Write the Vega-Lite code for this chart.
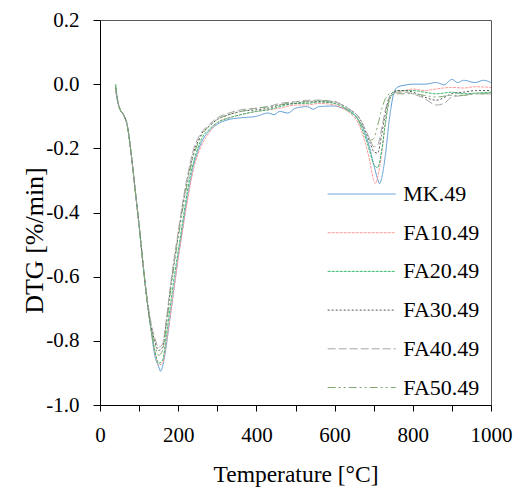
{
"$schema": "https://vega.github.io/schema/vega-lite/v6.json",
"width": 391, "height": 385,
"autosize": "none",
"padding": {"left": 100, "top": 20, "right": 23, "bottom": 83},
"background": "white",
"config": {"view": {"stroke": "#595959", "strokeWidth": 1}},
"data": {"values": [
{"s":"MK.49","t":40,"v":-0.02},{"s":"MK.49","t":45,"v":-0.055},{"s":"MK.49","t":50,"v":-0.075},{"s":"MK.49","t":60,"v":-0.095},{"s":"MK.49","t":70,"v":-0.13},{"s":"MK.49","t":80,"v":-0.22},{"s":"MK.49","t":90,"v":-0.33},{"s":"MK.49","t":100,"v":-0.44},{"s":"MK.49","t":110,"v":-0.56},{"s":"MK.49","t":120,"v":-0.67},{"s":"MK.49","t":130,"v":-0.76},{"s":"MK.49","t":140,"v":-0.845},{"s":"MK.49","t":150,"v":-0.88},{"s":"MK.49","t":155,"v":-0.895},{"s":"MK.49","t":160,"v":-0.88},{"s":"MK.49","t":170,"v":-0.81},{"s":"MK.49","t":180,"v":-0.72},{"s":"MK.49","t":190,"v":-0.63},{"s":"MK.49","t":200,"v":-0.54},{"s":"MK.49","t":210,"v":-0.46},{"s":"MK.49","t":220,"v":-0.38},{"s":"MK.49","t":230,"v":-0.31},{"s":"MK.49","t":240,"v":-0.25},{"s":"MK.49","t":250,"v":-0.21},{"s":"MK.49","t":260,"v":-0.18},{"s":"MK.49","t":280,"v":-0.145},{"s":"MK.49","t":300,"v":-0.125},{"s":"MK.49","t":330,"v":-0.11},{"s":"MK.49","t":360,"v":-0.105},{"s":"MK.49","t":400,"v":-0.1},{"s":"MK.49","t":430,"v":-0.09},{"s":"MK.49","t":445,"v":-0.095},{"s":"MK.49","t":460,"v":-0.085},{"s":"MK.49","t":480,"v":-0.09},{"s":"MK.49","t":500,"v":-0.075},{"s":"MK.49","t":530,"v":-0.07},{"s":"MK.49","t":545,"v":-0.078},{"s":"MK.49","t":560,"v":-0.07},{"s":"MK.49","t":600,"v":-0.068},{"s":"MK.49","t":620,"v":-0.075},{"s":"MK.49","t":640,"v":-0.085},{"s":"MK.49","t":660,"v":-0.11},{"s":"MK.49","t":670,"v":-0.13},{"s":"MK.49","t":680,"v":-0.16},{"s":"MK.49","t":690,"v":-0.2},{"s":"MK.49","t":700,"v":-0.25},{"s":"MK.49","t":710,"v":-0.295},{"s":"MK.49","t":715,"v":-0.31},{"s":"MK.49","t":720,"v":-0.295},{"s":"MK.49","t":730,"v":-0.22},{"s":"MK.49","t":740,"v":-0.11},{"s":"MK.49","t":750,"v":-0.035},{"s":"MK.49","t":760,"v":-0.01},{"s":"MK.49","t":780,"v":-0.003},{"s":"MK.49","t":800,"v":0.0},{"s":"MK.49","t":830,"v":0.0},{"s":"MK.49","t":860,"v":0.005},{"s":"MK.49","t":880,"v":-0.002},{"s":"MK.49","t":900,"v":0.015},{"s":"MK.49","t":915,"v":0.005},{"s":"MK.49","t":930,"v":0.012},{"s":"MK.49","t":960,"v":0.005},{"s":"MK.49","t":980,"v":0.012},{"s":"MK.49","t":1000,"v":0.005},
{"s":"FA10.49","t":40,"v":-0.02},{"s":"FA10.49","t":45,"v":-0.05},{"s":"FA10.49","t":50,"v":-0.075},{"s":"FA10.49","t":60,"v":-0.095},{"s":"FA10.49","t":70,"v":-0.13},{"s":"FA10.49","t":80,"v":-0.22},{"s":"FA10.49","t":90,"v":-0.33},{"s":"FA10.49","t":100,"v":-0.44},{"s":"FA10.49","t":110,"v":-0.56},{"s":"FA10.49","t":120,"v":-0.67},{"s":"FA10.49","t":130,"v":-0.76},{"s":"FA10.49","t":140,"v":-0.83},{"s":"FA10.49","t":150,"v":-0.875},{"s":"FA10.49","t":160,"v":-0.87},{"s":"FA10.49","t":170,"v":-0.8},{"s":"FA10.49","t":180,"v":-0.72},{"s":"FA10.49","t":190,"v":-0.63},{"s":"FA10.49","t":200,"v":-0.545},{"s":"FA10.49","t":210,"v":-0.465},{"s":"FA10.49","t":220,"v":-0.39},{"s":"FA10.49","t":230,"v":-0.32},{"s":"FA10.49","t":240,"v":-0.26},{"s":"FA10.49","t":250,"v":-0.22},{"s":"FA10.49","t":260,"v":-0.19},{"s":"FA10.49","t":280,"v":-0.15},{"s":"FA10.49","t":300,"v":-0.12},{"s":"FA10.49","t":330,"v":-0.105},{"s":"FA10.49","t":360,"v":-0.095},{"s":"FA10.49","t":400,"v":-0.085},{"s":"FA10.49","t":430,"v":-0.08},{"s":"FA10.49","t":460,"v":-0.075},{"s":"FA10.49","t":500,"v":-0.065},{"s":"FA10.49","t":530,"v":-0.065},{"s":"FA10.49","t":560,"v":-0.06},{"s":"FA10.49","t":600,"v":-0.065},{"s":"FA10.49","t":620,"v":-0.075},{"s":"FA10.49","t":640,"v":-0.09},{"s":"FA10.49","t":660,"v":-0.12},{"s":"FA10.49","t":670,"v":-0.15},{"s":"FA10.49","t":680,"v":-0.19},{"s":"FA10.49","t":690,"v":-0.24},{"s":"FA10.49","t":700,"v":-0.3},{"s":"FA10.49","t":705,"v":-0.31},{"s":"FA10.49","t":710,"v":-0.29},{"s":"FA10.49","t":720,"v":-0.22},{"s":"FA10.49","t":730,"v":-0.12},{"s":"FA10.49","t":740,"v":-0.05},{"s":"FA10.49","t":750,"v":-0.03},{"s":"FA10.49","t":760,"v":-0.025},{"s":"FA10.49","t":780,"v":-0.02},{"s":"FA10.49","t":800,"v":-0.015},{"s":"FA10.49","t":830,"v":-0.02},{"s":"FA10.49","t":860,"v":-0.015},{"s":"FA10.49","t":900,"v":-0.01},{"s":"FA10.49","t":930,"v":-0.012},{"s":"FA10.49","t":960,"v":-0.008},{"s":"FA10.49","t":1000,"v":-0.01},
{"s":"FA20.49","t":40,"v":0.0},{"s":"FA20.49","t":45,"v":-0.05},{"s":"FA20.49","t":50,"v":-0.075},{"s":"FA20.49","t":60,"v":-0.095},{"s":"FA20.49","t":70,"v":-0.13},{"s":"FA20.49","t":80,"v":-0.22},{"s":"FA20.49","t":90,"v":-0.33},{"s":"FA20.49","t":100,"v":-0.44},{"s":"FA20.49","t":110,"v":-0.56},{"s":"FA20.49","t":120,"v":-0.67},{"s":"FA20.49","t":130,"v":-0.76},{"s":"FA20.49","t":140,"v":-0.83},{"s":"FA20.49","t":150,"v":-0.87},{"s":"FA20.49","t":160,"v":-0.86},{"s":"FA20.49","t":170,"v":-0.78},{"s":"FA20.49","t":180,"v":-0.69},{"s":"FA20.49","t":190,"v":-0.6},{"s":"FA20.49","t":200,"v":-0.52},{"s":"FA20.49","t":210,"v":-0.44},{"s":"FA20.49","t":220,"v":-0.36},{"s":"FA20.49","t":230,"v":-0.29},{"s":"FA20.49","t":240,"v":-0.24},{"s":"FA20.49","t":250,"v":-0.2},{"s":"FA20.49","t":260,"v":-0.17},{"s":"FA20.49","t":280,"v":-0.14},{"s":"FA20.49","t":300,"v":-0.12},{"s":"FA20.49","t":330,"v":-0.105},{"s":"FA20.49","t":360,"v":-0.095},{"s":"FA20.49","t":400,"v":-0.085},{"s":"FA20.49","t":430,"v":-0.08},{"s":"FA20.49","t":460,"v":-0.07},{"s":"FA20.49","t":500,"v":-0.06},{"s":"FA20.49","t":530,"v":-0.06},{"s":"FA20.49","t":560,"v":-0.055},{"s":"FA20.49","t":600,"v":-0.06},{"s":"FA20.49","t":620,"v":-0.07},{"s":"FA20.49","t":640,"v":-0.085},{"s":"FA20.49","t":660,"v":-0.11},{"s":"FA20.49","t":670,"v":-0.14},{"s":"FA20.49","t":680,"v":-0.17},{"s":"FA20.49","t":690,"v":-0.21},{"s":"FA20.49","t":700,"v":-0.25},{"s":"FA20.49","t":710,"v":-0.26},{"s":"FA20.49","t":720,"v":-0.21},{"s":"FA20.49","t":730,"v":-0.12},{"s":"FA20.49","t":740,"v":-0.05},{"s":"FA20.49","t":750,"v":-0.03},{"s":"FA20.49","t":760,"v":-0.02},{"s":"FA20.49","t":780,"v":-0.02},{"s":"FA20.49","t":800,"v":-0.02},{"s":"FA20.49","t":830,"v":-0.025},{"s":"FA20.49","t":860,"v":-0.03},{"s":"FA20.49","t":900,"v":-0.025},{"s":"FA20.49","t":930,"v":-0.03},{"s":"FA20.49","t":960,"v":-0.028},{"s":"FA20.49","t":1000,"v":-0.025},
{"s":"FA30.49","t":40,"v":-0.01},{"s":"FA30.49","t":45,"v":-0.05},{"s":"FA30.49","t":50,"v":-0.075},{"s":"FA30.49","t":60,"v":-0.095},{"s":"FA30.49","t":70,"v":-0.13},{"s":"FA30.49","t":80,"v":-0.22},{"s":"FA30.49","t":90,"v":-0.33},{"s":"FA30.49","t":100,"v":-0.44},{"s":"FA30.49","t":110,"v":-0.56},{"s":"FA30.49","t":120,"v":-0.67},{"s":"FA30.49","t":130,"v":-0.75},{"s":"FA30.49","t":140,"v":-0.8},{"s":"FA30.49","t":150,"v":-0.83},{"s":"FA30.49","t":160,"v":-0.82},{"s":"FA30.49","t":170,"v":-0.74},{"s":"FA30.49","t":180,"v":-0.64},{"s":"FA30.49","t":190,"v":-0.55},{"s":"FA30.49","t":200,"v":-0.47},{"s":"FA30.49","t":210,"v":-0.39},{"s":"FA30.49","t":220,"v":-0.32},{"s":"FA30.49","t":230,"v":-0.26},{"s":"FA30.49","t":240,"v":-0.21},{"s":"FA30.49","t":250,"v":-0.18},{"s":"FA30.49","t":260,"v":-0.155},{"s":"FA30.49","t":280,"v":-0.13},{"s":"FA30.49","t":300,"v":-0.11},{"s":"FA30.49","t":330,"v":-0.095},{"s":"FA30.49","t":360,"v":-0.085},{"s":"FA30.49","t":400,"v":-0.08},{"s":"FA30.49","t":430,"v":-0.075},{"s":"FA30.49","t":460,"v":-0.065},{"s":"FA30.49","t":500,"v":-0.06},{"s":"FA30.49","t":530,"v":-0.055},{"s":"FA30.49","t":560,"v":-0.055},{"s":"FA30.49","t":600,"v":-0.055},{"s":"FA30.49","t":620,"v":-0.065},{"s":"FA30.49","t":640,"v":-0.08},{"s":"FA30.49","t":660,"v":-0.1},{"s":"FA30.49","t":670,"v":-0.12},{"s":"FA30.49","t":680,"v":-0.15},{"s":"FA30.49","t":690,"v":-0.18},{"s":"FA30.49","t":700,"v":-0.21},{"s":"FA30.49","t":710,"v":-0.215},{"s":"FA30.49","t":720,"v":-0.16},{"s":"FA30.49","t":730,"v":-0.09},{"s":"FA30.49","t":740,"v":-0.04},{"s":"FA30.49","t":750,"v":-0.025},{"s":"FA30.49","t":760,"v":-0.02},{"s":"FA30.49","t":780,"v":-0.02},{"s":"FA30.49","t":800,"v":-0.025},{"s":"FA30.49","t":830,"v":-0.04},{"s":"FA30.49","t":860,"v":-0.05},{"s":"FA30.49","t":900,"v":-0.03},{"s":"FA30.49","t":930,"v":-0.025},{"s":"FA30.49","t":960,"v":-0.02},{"s":"FA30.49","t":1000,"v":-0.02},
{"s":"FA40.49","t":40,"v":-0.015},{"s":"FA40.49","t":45,"v":-0.05},{"s":"FA40.49","t":50,"v":-0.075},{"s":"FA40.49","t":60,"v":-0.095},{"s":"FA40.49","t":70,"v":-0.13},{"s":"FA40.49","t":80,"v":-0.22},{"s":"FA40.49","t":90,"v":-0.33},{"s":"FA40.49","t":100,"v":-0.44},{"s":"FA40.49","t":110,"v":-0.56},{"s":"FA40.49","t":120,"v":-0.66},{"s":"FA40.49","t":130,"v":-0.74},{"s":"FA40.49","t":140,"v":-0.79},{"s":"FA40.49","t":150,"v":-0.82},{"s":"FA40.49","t":160,"v":-0.81},{"s":"FA40.49","t":170,"v":-0.73},{"s":"FA40.49","t":180,"v":-0.63},{"s":"FA40.49","t":190,"v":-0.54},{"s":"FA40.49","t":200,"v":-0.46},{"s":"FA40.49","t":210,"v":-0.38},{"s":"FA40.49","t":220,"v":-0.31},{"s":"FA40.49","t":230,"v":-0.25},{"s":"FA40.49","t":240,"v":-0.2},{"s":"FA40.49","t":250,"v":-0.17},{"s":"FA40.49","t":260,"v":-0.15},{"s":"FA40.49","t":280,"v":-0.125},{"s":"FA40.49","t":300,"v":-0.105},{"s":"FA40.49","t":330,"v":-0.09},{"s":"FA40.49","t":360,"v":-0.08},{"s":"FA40.49","t":400,"v":-0.075},{"s":"FA40.49","t":430,"v":-0.07},{"s":"FA40.49","t":460,"v":-0.06},{"s":"FA40.49","t":500,"v":-0.055},{"s":"FA40.49","t":530,"v":-0.05},{"s":"FA40.49","t":560,"v":-0.05},{"s":"FA40.49","t":600,"v":-0.055},{"s":"FA40.49","t":620,"v":-0.065},{"s":"FA40.49","t":640,"v":-0.08},{"s":"FA40.49","t":660,"v":-0.1},{"s":"FA40.49","t":670,"v":-0.12},{"s":"FA40.49","t":680,"v":-0.145},{"s":"FA40.49","t":690,"v":-0.17},{"s":"FA40.49","t":700,"v":-0.195},{"s":"FA40.49","t":710,"v":-0.19},{"s":"FA40.49","t":720,"v":-0.14},{"s":"FA40.49","t":730,"v":-0.08},{"s":"FA40.49","t":740,"v":-0.04},{"s":"FA40.49","t":750,"v":-0.03},{"s":"FA40.49","t":760,"v":-0.025},{"s":"FA40.49","t":780,"v":-0.025},{"s":"FA40.49","t":800,"v":-0.03},{"s":"FA40.49","t":830,"v":-0.045},{"s":"FA40.49","t":860,"v":-0.065},{"s":"FA40.49","t":880,"v":-0.06},{"s":"FA40.49","t":900,"v":-0.04},{"s":"FA40.49","t":930,"v":-0.035},{"s":"FA40.49","t":960,"v":-0.03},{"s":"FA40.49","t":1000,"v":-0.03},
{"s":"FA50.49","t":40,"v":-0.005},{"s":"FA50.49","t":45,"v":-0.05},{"s":"FA50.49","t":50,"v":-0.075},{"s":"FA50.49","t":60,"v":-0.095},{"s":"FA50.49","t":70,"v":-0.13},{"s":"FA50.49","t":80,"v":-0.22},{"s":"FA50.49","t":90,"v":-0.33},{"s":"FA50.49","t":100,"v":-0.44},{"s":"FA50.49","t":110,"v":-0.56},{"s":"FA50.49","t":120,"v":-0.67},{"s":"FA50.49","t":130,"v":-0.76},{"s":"FA50.49","t":140,"v":-0.81},{"s":"FA50.49","t":150,"v":-0.845},{"s":"FA50.49","t":160,"v":-0.83},{"s":"FA50.49","t":170,"v":-0.75},{"s":"FA50.49","t":180,"v":-0.65},{"s":"FA50.49","t":190,"v":-0.56},{"s":"FA50.49","t":200,"v":-0.48},{"s":"FA50.49","t":210,"v":-0.4},{"s":"FA50.49","t":220,"v":-0.33},{"s":"FA50.49","t":230,"v":-0.27},{"s":"FA50.49","t":240,"v":-0.22},{"s":"FA50.49","t":250,"v":-0.185},{"s":"FA50.49","t":260,"v":-0.16},{"s":"FA50.49","t":280,"v":-0.13},{"s":"FA50.49","t":300,"v":-0.11},{"s":"FA50.49","t":330,"v":-0.095},{"s":"FA50.49","t":360,"v":-0.085},{"s":"FA50.49","t":400,"v":-0.075},{"s":"FA50.49","t":430,"v":-0.07},{"s":"FA50.49","t":460,"v":-0.065},{"s":"FA50.49","t":500,"v":-0.055},{"s":"FA50.49","t":530,"v":-0.055},{"s":"FA50.49","t":560,"v":-0.05},{"s":"FA50.49","t":600,"v":-0.06},{"s":"FA50.49","t":620,"v":-0.07},{"s":"FA50.49","t":640,"v":-0.09},{"s":"FA50.49","t":660,"v":-0.11},{"s":"FA50.49","t":670,"v":-0.13},{"s":"FA50.49","t":680,"v":-0.155},{"s":"FA50.49","t":690,"v":-0.175},{"s":"FA50.49","t":700,"v":-0.17},{"s":"FA50.49","t":710,"v":-0.13},{"s":"FA50.49","t":720,"v":-0.08},{"s":"FA50.49","t":730,"v":-0.045},{"s":"FA50.49","t":740,"v":-0.03},{"s":"FA50.49","t":750,"v":-0.025},{"s":"FA50.49","t":760,"v":-0.03},{"s":"FA50.49","t":780,"v":-0.03},{"s":"FA50.49","t":800,"v":-0.03},{"s":"FA50.49","t":830,"v":-0.035},{"s":"FA50.49","t":860,"v":-0.04},{"s":"FA50.49","t":900,"v":-0.035},{"s":"FA50.49","t":930,"v":-0.035},{"s":"FA50.49","t":960,"v":-0.03},{"s":"FA50.49","t":1000,"v":-0.03}
]},
"mark": {"type": "line", "strokeWidth": 1, "interpolate": "monotone", "clip": true},
"encoding": {
  "x": {"field": "t", "type": "quantitative",
    "scale": {"domain": [0, 1000], "nice": false},
    "axis": {"title": "Temperature [°C]", "values": [0,100,200,300,400,500,600,700,800,900,1000],
      "labelExpr": "datum.value % 200 === 0 ? datum.label : ''", "format": "d",
      "grid": false, "tickSize": 6, "tickColor": "#000", "domainColor": "#000",
      "labelFont": "Liberation Serif", "labelFontSize": 21, "labelColor": "#000", "labelPadding": 13,
      "titleFont": "Liberation Serif", "titleFontSize": 23.5, "titleFontWeight": "normal", "titleColor": "#000",
      "titleX": 195.5, "titleY": 76, "titleBaseline": "alphabetic", "labelFlush": false, "labelOverlap": false}},
  "y": {"field": "v", "type": "quantitative",
    "scale": {"domain": [-1, 0.2], "nice": false},
    "axis": {"title": "DTG [%/min]", "values": [-1,-0.8,-0.6,-0.4,-0.2,0,0.2], "format": ".1f",
      "labelExpr": "replace(datum.label, '\u2212', '-')",
      "grid": false, "tickSize": 7, "tickColor": "#000", "domainColor": "#000",
      "labelFont": "Liberation Serif", "labelFontSize": 21, "labelColor": "#000", "labelPadding": 14,
      "titleFont": "Liberation Serif", "titleFontSize": 26, "titleFontWeight": "normal", "titleColor": "#000",
      "titleX": -58, "titleY": 220, "titleAngle": -90, "titleAlign": "center", "titleBaseline": "alphabetic", "labelFlush": false, "labelOverlap": false}},
  "color": {"field": "s", "type": "nominal",
    "scale": {"domain": ["MK.49","FA10.49","FA20.49","FA30.49","FA40.49","FA50.49"],
              "range": ["#5B9BD5","#FF9B9B","#3DB86E","#555555","#A6A6A6","#7FA870"]},
    "legend": {"orient": "none", "legendX": 227, "legendY": 162, "title": null, "symbolType": "M-1,0H5",
      "symbolSize": 514, "symbolStrokeWidth": 1, "labelFont": "Liberation Serif", "labelFontSize": 22,
      "labelColor": "#000", "labelOffset": 52.3, "rowPadding": 15.7, "padding": 0, "labelLimit": 200}},
  "strokeDash": {"field": "s", "type": "nominal",
    "scale": {"domain": ["MK.49","FA10.49","FA20.49","FA30.49","FA40.49","FA50.49"],
              "range": [[1,0],[3,1],[3,1],[2,2],[8,3],[8,3,2,3,2,3]]},
    "legend": null}
}
}
